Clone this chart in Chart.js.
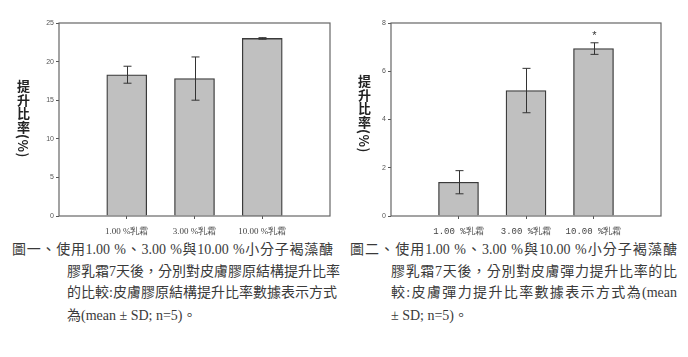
<!DOCTYPE html>
<html><head><meta charset="utf-8">
<script src="https://cdn.jsdelivr.net/npm/chart.js@4"></script>
<style>
body{margin:0;width:688px;height:357px;background:#fff;position:relative;overflow:hidden;}
.box{position:absolute;top:0;width:344px;height:240px;}
.yt{position:absolute;writing-mode:vertical-rl;font-family:"Noto Sans CJK TC";font-weight:700;font-size:13px;line-height:14px;letter-spacing:0.5px;color:#222;}
.cap{position:absolute;font-family:"Liberation Serif","Noto Sans CJK TC";font-size:14px;line-height:16px;color:#3a3a3a;white-space:nowrap;}
.j{text-align:justify;text-align-last:justify;}
</style>
</head><body>
<div class="box" style="left:0"><canvas id="c1" width="344" height="240"></canvas></div>
<div class="box" style="left:344px"><canvas id="c2" width="344" height="240"></canvas></div>
<div class="yt" style="left:16px;top:80px">提升比率(%)</div>
<div class="yt" style="left:357px;top:75px">提升比率(%)</div>

<div class="cap j" style="left:12px;top:242px;width:321px">圖一、使用1.00 %、3.00 %與10.00 %小分子褐藻醣</div>
<div class="cap j" style="left:67px;top:264px;width:266px">膠乳霜7天後，分別對皮膚膠原結構提升比率</div>
<div class="cap j" style="left:67px;top:285px;width:266px">的比較:皮膚膠原結構提升比率數據表示方式</div>
<div class="cap" style="left:67px;top:308px">為(mean ± SD; n=5)。</div>

<div class="cap j" style="left:350px;top:242px;width:327px">圖二、使用1.00 %、3.00 %與10.00 %小分子褐藻醣</div>
<div class="cap j" style="left:391px;top:264px;width:286px">膠乳霜7天後，分別對皮膚彈力提升比率的比</div>
<div class="cap j" style="left:391px;top:285px;width:286px">較:皮膚彈力提升比率數據表示方式為(mean</div>
<div class="cap" style="left:391px;top:308px">± SD; n=5)。</div>

<script>
const categories = ['1.00 %乳霜', '3.00 %乳霜', '10.00 %乳霜'];
const collagenMean = [18.3, 17.8, 23.0];
const collagenSD = [1.1, 2.8, 0.1];
const elasticMean = [1.4, 5.2, 6.94];
const elasticSD = [0.48, 0.92, 0.24];
const elasticMarks = ['', '', '*'];
const yMax1 = 25, yStep1 = 5;
const yMax2 = 8, yStep2 = 2;

function makeChart(id, means, sds, marks, yMax, yStep, yWidth, padRight, xFont) {
  const labels = ['', ...categories, ''];
  const data = [null, ...means, null];
  const errPlugin = {
    id: 'err',
    afterDatasetsDraw(chart) {
      const {ctx, scales: {x, y}, chartArea: a} = chart;
      ctx.save();
      ctx.strokeStyle = '#666';
      ctx.lineWidth = 1.2;
      ctx.strokeRect(a.left, a.top, a.right - a.left, a.bottom - a.top);
      ctx.strokeStyle = '#333';
      ctx.lineWidth = 1;
      means.forEach((m, i) => {
        const px = Math.round(x.getPixelForValue(i + 1)) + 0.5;
        const t = y.getPixelForValue(m + sds[i]);
        const b = y.getPixelForValue(m - sds[i]);
        ctx.beginPath();
        ctx.moveTo(px, t); ctx.lineTo(px, b);
        ctx.moveTo(px - 4, t); ctx.lineTo(px + 4, t);
        ctx.moveTo(px - 4, b); ctx.lineTo(px + 4, b);
        ctx.stroke();
        if (marks[i]) {
          ctx.fillStyle = '#333';
          ctx.font = '11px "Liberation Sans"';
          ctx.textAlign = 'center';
          ctx.textBaseline = 'middle';
          ctx.fillText(marks[i], px, t - 7);
        }
      });
      ctx.restore();
    }
  };
  return new Chart(document.getElementById(id), {
    type: 'bar',
    data: { labels, datasets: [{ data, backgroundColor: '#c0c0c0', borderColor: '#3a3a3a', borderWidth: 1.3, barThickness: 40 }] },
    options: {
      responsive: false, animation: false,
      layout: { padding: { left: 0, right: padRight, top: 23, bottom: 0 } },
      plugins: { legend: { display: false }, tooltip: { enabled: false } },
      scales: {
        x: {
          offset: false,
          grid: { offset: false, drawOnChartArea: false, tickLength: 3,
                  tickColor: c => (c.index === 0 || c.index === labels.length - 1) ? 'rgba(0,0,0,0)' : '#555' },
          border: { display: false },
          ticks: { autoSkip: false, maxRotation: 0, padding: 7, color: '#444', font: { family: xFont, size: 9 } },
          afterFit(s) { s.height = 24; }
        },
        y: {
          min: 0, max: yMax,
          grid: { drawOnChartArea: false, tickLength: 3, color: '#555' },
          border: { display: false },
          ticks: { stepSize: yStep, padding: 2, color: '#555', font: { family: 'Liberation Sans', size: 7 } },
          afterFit(s) { s.width = yWidth; }
        }
      }
    },
    plugins: [errPlugin]
  });
}
makeChart('c1', collagenMean, collagenSD, ['', '', ''], yMax1, yStep1, 59, 14, 'Liberation Serif');
makeChart('c2', elasticMean, elasticSD, elasticMarks, yMax2, yStep2, 47, 27, 'Liberation Mono');
</script>
</body></html>
